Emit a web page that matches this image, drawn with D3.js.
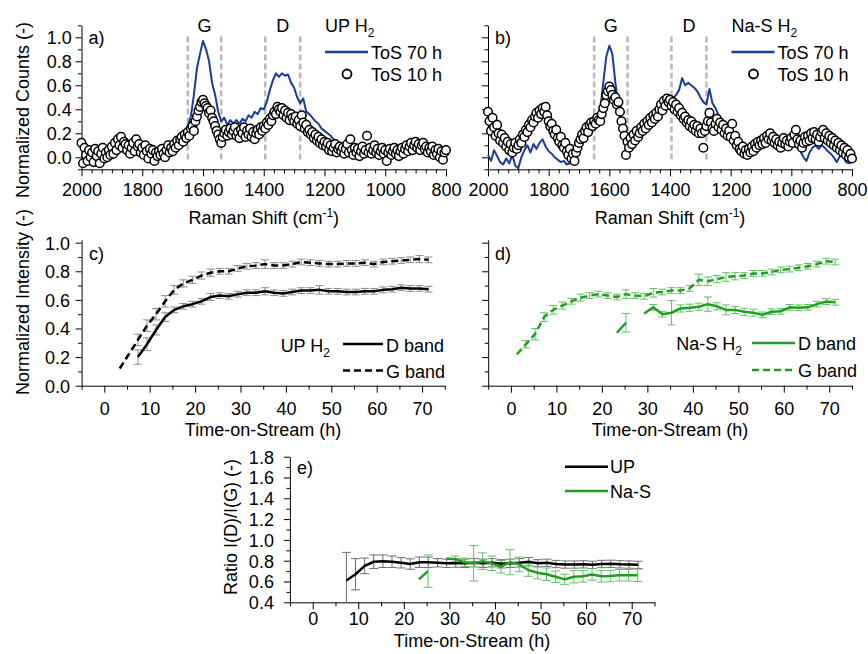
<!DOCTYPE html>
<html><head><meta charset="utf-8">
<script src="https://cdn.jsdelivr.net/npm/d3@7"></script>
<style>
body{margin:0;background:#fff;}
svg{display:block;font-family:"Liberation Sans",Arial,Helvetica,sans-serif;}
</style></head><body>
<svg id="chart" width="868" height="654"></svg>
<script>
// ---------- DATA ----------
// Raman spectra (panels a, b)
const wnLine = d3.range(2000, 799, -10);   // ToS 70 h spectrum grid (cm-1)
const wnDots = d3.range(2000, 799, -5);    // ToS 10 h spectrum grid (cm-1)

const upLine70 = [0.02,-0.01,0.03,0.00,-0.03,0.01,0.04,-0.02,0.02,0.05,0.03,
 0.08,0.10,0.07,0.05,0.08,0.04,0.06,0.02,0.05,0.03,
 0.01,-0.02,0.02,-0.03,0.00,0.02,-0.01,0.03,0.01,0.04,
 0.08,0.12,0.15,0.20,0.26,0.34,0.52,0.74,0.86,0.97,
 0.90,0.80,0.62,0.52,0.38,0.30,0.33,0.27,0.31,0.28,
 0.31,0.28,0.32,0.30,0.35,0.33,0.38,0.36,0.41,0.40,
 0.46,0.56,0.64,0.70,0.67,0.70,0.68,0.69,0.62,0.58,
 0.50,0.45,0.49,0.38,0.36,0.33,0.30,0.28,0.24,0.22,
 0.20,0.18,0.15,0.13,0.11,0.10,0.09,0.08,0.07,0.06,
 0.06,0.05,0.07,0.04,0.05,0.06,0.04,0.05,0.03,0.04,
 0.03,0.05,0.02,0.04,0.06,0.03,0.05,0.04,0.06,0.05,
 0.07,0.05,0.04,0.06,0.03,0.02,0.04,0.00,0.02,-0.01];

const upDots10 = [0.12,-0.05,0.08,0.02,-0.03,0.06,0.00,0.04,-0.04,0.07,
 0.01,0.05,-0.05,0.03,0.08,-0.01,0.04,0.00,0.06,0.02,
 0.09,0.03,0.12,0.06,0.15,0.10,0.17,0.08,0.13,0.11,
 0.06,0.10,0.03,0.08,0.12,0.05,0.15,0.09,0.11,0.04,
 0.08,0.02,0.10,0.05,-0.01,0.07,0.03,0.06,-0.03,0.04,
 0.01,0.05,0.02,0.07,0.03,0.00,0.06,0.10,0.04,0.08,
 0.05,0.11,0.08,0.14,0.10,0.15,0.17,0.13,0.19,0.16,
 0.21,0.18,0.24,0.26,0.22,0.30,0.34,0.39,0.42,0.46,
 0.48,0.45,0.43,0.41,0.37,0.39,0.33,0.30,0.26,0.22,
 0.19,0.15,0.12,0.17,0.20,0.23,0.18,0.21,0.24,0.19,
 0.22,0.25,0.18,0.21,0.16,0.23,0.20,0.25,0.17,0.22,
 0.19,0.24,0.17,0.21,0.15,0.20,0.23,0.19,0.25,0.22,
 0.26,0.24,0.29,0.27,0.32,0.30,0.35,0.38,0.36,0.42,
 0.40,0.38,0.41,0.35,0.39,0.33,0.37,0.31,0.36,0.33,
 0.30,0.34,0.28,0.31,0.26,0.35,0.29,0.24,0.27,0.21,
 0.23,0.19,0.21,0.16,0.19,0.14,0.17,0.12,0.15,0.10,
 0.13,0.09,0.12,0.06,0.10,0.05,0.08,0.11,0.04,0.07,
 0.09,0.05,0.08,0.03,0.07,0.11,0.04,0.15,0.06,0.02,
 0.08,0.04,0.07,0.01,0.05,0.09,0.03,0.06,0.18,0.04,
 0.08,0.03,0.06,0.10,0.04,0.07,0.02,0.05,0.08,0.03,
 0.06,-0.03,0.04,0.07,0.02,0.05,0.08,0.03,0.06,0.01,
 0.05,0.08,0.03,0.07,0.10,0.05,0.09,0.12,0.06,0.10,
 0.13,0.08,0.11,0.06,0.10,0.12,0.07,0.09,0.04,0.08,
 0.05,0.09,0.02,0.06,0.03,0.07,0.00,0.05,-0.02,0.04,
 0.06];

const nasLine70 = [0.02,-0.03,0.06,0.01,-0.04,-0.06,-0.01,-0.05,0.02,-0.07,-0.09,
 0.00,0.06,0.10,0.04,0.11,0.07,0.12,0.15,0.09,0.05,
 0.03,0.00,-0.02,-0.04,-0.03,-0.06,-0.05,-0.04,-0.01,0.04,
 0.11,0.17,0.22,0.25,0.28,0.31,0.40,0.62,0.84,0.93,
 0.86,0.62,0.42,0.30,0.19,0.10,0.15,0.17,0.20,0.22,
 0.24,0.27,0.29,0.32,0.33,0.36,0.38,0.40,0.43,0.46,
 0.49,0.52,0.56,0.66,0.60,0.62,0.60,0.58,0.55,0.50,
 0.46,0.44,0.57,0.45,0.41,0.35,0.30,0.25,0.22,0.18,
 0.15,0.10,0.05,0.02,0.00,0.01,0.05,0.08,0.10,0.12,
 0.13,0.10,0.12,0.09,0.07,0.05,0.06,0.08,0.10,0.12,
 0.10,0.11,0.05,0.00,-0.03,0.04,0.08,0.10,0.07,0.10,
 0.08,0.05,0.03,0.00,-0.04,0.01,0.02,-0.04,-0.05,-0.04];

const nasDots10 = [0.38,0.30,0.22,0.33,0.25,0.18,0.27,0.20,0.14,0.19,
 0.12,0.16,0.09,0.13,0.06,0.11,0.04,0.08,0.12,0.07,
 0.10,0.15,0.12,0.19,0.17,0.23,0.21,0.27,0.25,0.31,
 0.29,0.34,0.37,0.33,0.39,0.36,0.41,0.38,0.42,0.35,
 0.30,0.26,0.28,0.22,0.19,0.23,0.16,0.13,0.17,0.10,
 0.08,0.12,0.05,0.02,0.07,-0.01,0.03,-0.03,0.04,0.08,
 0.12,0.15,0.19,0.16,0.22,0.25,0.21,0.27,0.29,0.26,
 0.30,0.28,0.33,0.31,0.30,0.36,0.41,0.45,0.52,0.55,
 0.59,0.56,0.52,0.48,0.50,0.44,0.46,0.38,0.30,0.24,
 0.18,0.02,0.13,0.08,0.16,0.11,0.19,0.14,0.22,0.17,
 0.20,0.25,0.22,0.28,0.24,0.30,0.27,0.33,0.29,0.35,
 0.32,0.37,0.34,0.40,0.44,0.39,0.47,0.43,0.49,0.46,
 0.48,0.43,0.46,0.40,0.44,0.38,0.41,0.35,0.37,0.32,
 0.34,0.29,0.31,0.26,0.30,0.24,0.27,0.22,0.26,0.20,
 0.24,0.20,0.08,0.22,0.26,0.30,0.37,0.29,0.24,0.22,
 0.28,0.32,0.25,0.29,0.23,0.27,0.20,0.24,0.18,0.22,
 0.17,0.28,0.14,0.18,0.10,0.13,0.07,0.05,0.09,0.03,
 0.06,0.02,0.07,0.04,0.09,0.05,0.11,0.08,0.13,0.10,
 0.14,0.11,0.16,0.12,0.18,0.15,0.20,0.14,0.17,0.12,
 0.15,0.10,0.13,0.08,0.12,0.16,0.11,0.14,0.09,0.13,
 0.16,0.12,0.19,0.23,0.15,0.11,0.14,0.08,0.12,0.17,
 0.13,0.18,0.14,0.20,0.16,0.21,0.15,0.19,0.13,0.17,
 0.21,0.23,0.16,0.20,0.14,0.18,0.12,0.16,0.10,0.14,
 0.08,0.12,0.06,0.10,0.04,0.08,0.02,0.06,0.00,0.03,
 -0.01];

const bandLines = [1650, 1540, 1395, 1280];

// Band intensities vs time-on-stream (panels c, d)
const tUP_G = [3.4,5.4,7.4,9.4,11.4,13.4,15.4,17.4,19.4,21.4,23.4,25.4,27.4,29.4,31.4,33.4,35.4,37.4,39.4,41.4,43.4,45.4,47.4,49.4,51.4,53.4,55.4,57.4,59.4,61.4,63.4,65.4,67.4,69.4,71.4];
const upG = [0.12,0.22,0.32,0.42,0.50,0.59,0.67,0.715,0.74,0.77,0.79,0.80,0.80,0.82,0.835,0.84,0.85,0.84,0.84,0.85,0.865,0.86,0.855,0.85,0.85,0.855,0.855,0.86,0.85,0.865,0.87,0.875,0.88,0.885,0.88];
const upGerr = [0,0,0.04,0.04,0.04,0.04,0.03,0.025,0.025,0.025,0.025,0.02,0.02,0.02,0.02,0.02,0.03,0.02,0.02,0.02,0.02,0.02,0.02,0.02,0.02,0.02,0.02,0.02,0.02,0.02,0.02,0.02,0.02,0.025,0.02];

const tUP_D = [7.4,9.4,11.4,13.4,15.4,17.4,19.4,21.4,23.4,25.4,27.4,29.4,31.4,33.4,35.4,37.4,39.4,41.4,43.4,45.4,47.4,49.4,51.4,53.4,55.4,57.4,59.4,61.4,63.4,65.4,67.4,69.4,71.4];
const upD = [0.20,0.29,0.39,0.48,0.53,0.555,0.57,0.59,0.62,0.63,0.625,0.64,0.65,0.65,0.66,0.65,0.645,0.655,0.665,0.665,0.67,0.66,0.66,0.655,0.655,0.66,0.66,0.67,0.675,0.685,0.68,0.68,0.675];
const upDerr = [0.05,0.045,0.035,0.03,0.02,0.02,0.02,0.02,0.025,0.02,0.02,0.02,0.02,0.02,0.025,0.02,0.02,0.02,0.02,0.02,0.03,0.02,0.02,0.02,0.02,0.02,0.02,0.02,0.02,0.02,0.02,0.02,0.02];

const tNaS = [1.3,3.3,5.3,7.3,9.3,11.3,13.3,15.3,17.3,19.3,21.3,23.3,25.3,27.3,29.3,31.3,33.3,35.3,37.3,39.3,41.3,43.3,45.3,47.3,49.3,51.3,53.3,55.3,57.3,59.3,61.3,63.3,65.3,67.3,69.3,71.3];
const nasG = [0.22,0.29,0.36,0.48,0.53,0.56,0.59,0.615,0.63,0.64,0.63,0.62,0.64,0.63,0.625,0.65,0.655,0.665,0.665,0.68,0.74,0.73,0.745,0.76,0.765,0.77,0.785,0.785,0.795,0.81,0.815,0.825,0.835,0.85,0.87,0.865];
const nasGerr = [0,0.025,0.04,0.03,0.03,0.025,0.02,0.025,0.02,0.02,0.02,0.02,0.03,0.02,0.02,0.03,0.02,0.02,0.02,0.02,0.04,0.03,0.025,0.03,0.025,0.02,0.02,0.02,0.02,0.02,0.02,0.02,0.02,0.02,0.02,0.02];
const nasD = [null,null,null,null,null,null,null,null,null,null,null,0.37,0.44,null,0.505,0.548,0.50,0.51,0.54,0.545,0.552,0.57,0.555,0.53,0.53,0.517,0.51,0.495,0.517,0.52,0.548,0.545,0.548,0.57,0.588,0.583];
const nasDerr = [0,0,0,0,0,0,0,0,0,0,0,0,0.065,0,0,0.02,0.02,0.085,0.025,0.025,0.025,0.05,0.025,0.035,0.025,0.025,0.025,0.02,0.02,0.02,0.02,0.02,0.02,0.02,0.02,0.02];

// Ratio I(D)/I(G) (panel e)
const upRatio = [0.61,0.67,0.75,0.79,0.795,0.79,0.78,0.768,0.785,0.785,0.78,0.775,0.777,0.775,0.78,0.775,0.78,0.77,0.775,0.78,0.79,0.775,0.78,0.768,0.763,0.763,0.765,0.76,0.768,0.77,0.765,0.763,0.76];
const upRatioErr = [0.27,0.15,0.075,0.065,0.06,0.055,0.05,0.05,0.05,0.05,0.04,0.04,0.04,0.04,0.04,0.04,0.04,0.04,0.04,0.04,0.04,0.035,0.035,0.035,0.035,0.035,0.035,0.035,0.035,0.035,0.035,0.035,0.035];
const nasRatio = [null,null,null,null,null,null,null,null,null,null,null,0.62,0.70,null,0.82,0.815,0.785,0.775,0.795,0.775,0.742,0.785,0.765,0.71,0.685,0.67,0.646,0.62,0.646,0.65,0.668,0.65,0.652,0.66,0.66,0.66];
const nasRatioErr = [0,0,0,0,0,0,0,0,0,0,0,0,0.155,0,0,0.03,0.04,0.17,0.08,0.07,0.06,0.12,0.07,0.06,0.06,0.06,0.055,0.05,0.06,0.055,0.055,0.055,0.055,0.055,0.055,0.06];

// tick labels
const ramanTicks = [2000,1800,1600,1400,1200,1000,800];
const timeTicks = [0,10,20,30,40,50,60,70];
const countTicks = [0,0.2,0.4,0.6,0.8,1.0];
const ratioTicks = [0.4,0.6,0.8,1.0,1.2,1.4,1.6,1.8];

// ---------- STYLE ----------
const BLUE = "#1b3c99", GREEN = "#1f9f1f", GREEN_ERR = "#62c262";
const svg = d3.select("#chart");
const FONT = 18;

// ---------- SCALES ----------
const xA = d3.scaleLinear().domain([2000,800]).range([81.5,446]);
const yA = d3.scaleLinear().domain([-0.1,1.1]).range([169.3,25.3]);
const xB = d3.scaleLinear().domain([2000,800]).range([488,852]);
const yB = yA.copy();
const xC = d3.scaleLinear().domain([-5,75]).range([81.6,444.8]);
const yC = d3.scaleLinear().domain([0,1.02]).range([385.7,239.8]);
const xD = d3.scaleLinear().domain([-5,75]).range([488.2,852]);
const yD = yC.copy();
const xE = d3.scaleLinear().domain([-5,75]).range([289.9,654.5]);
const yE = d3.scaleLinear().domain([0.4,1.8]).range([602.3,456.7]);

function styleAxis(g){
  g.attr("font-size", null).attr("font-family", null);
  g.selectAll("path,line").attr("stroke","#000").attr("stroke-width",1);
  g.selectAll("text").attr("fill","#000").style("font-size", FONT+"px");
}

function drawAxes(xs, ys, o){
  const yPos = ys.range()[0], xPos = xs.range()[0];
  const gx = svg.append("g").attr("transform",`translate(0,${yPos})`)
    .call(d3.axisBottom(xs).tickValues(o.xMajor).tickSize(7).tickSizeOuter(0)
      .tickFormat(o.xLabels ? d3.format("d") : ""));
  styleAxis(gx);
  gx.selectAll("text").attr("y", o.xBase).attr("dy", null);
  const gxm = svg.append("g").attr("transform",`translate(0,${yPos})`)
    .call(d3.axisBottom(xs).tickValues(o.xMinor).tickSize(4).tickSizeOuter(0).tickFormat(""));
  gxm.select(".domain").remove(); styleAxis(gxm);

  const gy = svg.append("g").attr("transform",`translate(${xPos},0)`)
    .call(d3.axisLeft(ys).tickValues(o.yMajor).tickSize(6).tickSizeOuter(0)
      .tickFormat(o.yLabels ? d3.format(".1f") : ""));
  styleAxis(gy);
  gy.selectAll("text").attr("x", -o.yOff).attr("dy","0.36em");
  const gym = svg.append("g").attr("transform",`translate(${xPos},0)`)
    .call(d3.axisLeft(ys).tickValues(o.yMinor).tickSize(3.5).tickSizeOuter(0).tickFormat(""));
  gym.select(".domain").remove(); styleAxis(gym);
}

function txt(x, y, s, anchor){
  return svg.append("text").attr("x",x).attr("y",y).attr("text-anchor",anchor||"start")
    .attr("font-size",FONT).attr("fill","#000").text(s);
}
function sub(t, s){ t.append("tspan").attr("dy",5).attr("font-size",12).text(s); }

const ramanMinor = d3.range(0,37).map(k => 2000 - k*200/6).filter(v => Math.round(v) % 200 !== 0);
const countMinor = [-0.1,0.1,0.3,0.5,0.7,0.9,1.1];
const timeMinor = [-5,5,15,25,35,45,55,65,75];

// ---------- PANELS a, b ----------
function spectrum(xs, ys, line70, dots10, label, header, legX){
  bandLines.forEach(b => {
    svg.append("line").attr("x1",xs(b)).attr("x2",xs(b)).attr("y1",36.5).attr("y2",159.5)
      .attr("stroke","#b9b9b9").attr("stroke-width",2.5).attr("stroke-dasharray","6,3");
  });
  drawAxes(xs, ys, {xMajor:ramanTicks, xMinor:ramanMinor, xLabels:true, xBase:26.5,
    yMajor:countTicks, yMinor:countMinor, yLabels: label==="a)", yOff:9.8});
  const ln = d3.line().x((d,i)=>xs(wnLine[i])).y(d=>ys(d));
  svg.append("path").datum(line70).attr("d",ln).attr("fill","none")
    .attr("stroke",BLUE).attr("stroke-width",2).attr("stroke-linejoin","round");
  svg.append("g").selectAll("circle").data(dots10).join("circle")
    .attr("cx",(d,i)=>xs(wnDots[i])).attr("cy",d=>ys(d)).attr("r",4.3)
    .attr("fill","#fff").attr("stroke","#000").attr("stroke-width",1.5);
  txt(xs.range()[0]+7, 43.5, label);
  txt(xs((bandLines[0]+bandLines[1])/2), 32, "G", "middle");
  txt(xs((bandLines[2]+bandLines[3])/2), 32, "D", "middle");
  sub(txt(legX, 32, header), "2");
  svg.append("line").attr("x1",legX).attr("x2",legX+43).attr("y1",52).attr("y2",52)
    .attr("stroke",BLUE).attr("stroke-width",2.5);
  txt(legX+46, 58.5, "ToS 70 h");
  svg.append("circle").attr("cx",legX+22).attr("cy",74).attr("r",4.5)
    .attr("fill","#fff").attr("stroke","#000").attr("stroke-width",1.8);
  txt(legX+46, 80.5, "ToS 10 h");
  const t = txt((xs.range()[0]+xs.range()[1])/2, 224, "Raman Shift (cm", "middle");
  t.append("tspan").attr("dy",-7).attr("font-size",12).text("-1");
  t.append("tspan").attr("dy",7).attr("font-size",FONT).text(")");
}
spectrum(xA, yA, upLine70, upDots10, "a)", "UP H", 325);
spectrum(xB, yB, nasLine70, nasDots10, "b)", "Na-S H", 731.5);

// rotated titles
function vtitle(x, y, s){
  svg.append("text").attr("transform",`translate(${x},${y}) rotate(-90)`)
    .attr("text-anchor","middle").attr("font-size",FONT).attr("fill","#000").text(s);
}
vtitle(29, 110, "Normalized Counts (-)");
vtitle(28.5, 302, "Normalized Intensity (-)");
vtitle(237, 527, "Ratio I(D)/I(G) (-)");

// ---------- helpers for time panels ----------
function errBars(xs, ys, ts, vals, errs, color, cap){
  const lo = ys.domain()[0], hi = ys.domain()[1];
  const g = svg.append("g").attr("stroke",color).attr("stroke-width",1).attr("fill","none");
  ts.forEach((t,i) => {
    const v = vals[i], e = errs[i];
    if (v == null || !e) return;
    const a = Math.max(v-e, lo), b = Math.min(v+e, hi);
    const x = xs(t);
    g.append("line").attr("x1",x).attr("x2",x).attr("y1",ys(a)).attr("y2",ys(b));
    if (v-e >= lo) g.append("line").attr("x1",x-cap/2).attr("x2",x+cap/2).attr("y1",ys(v-e)).attr("y2",ys(v-e));
    if (v+e <= hi) g.append("line").attr("x1",x-cap/2).attr("x2",x+cap/2).attr("y1",ys(v+e)).attr("y2",ys(v+e));
  });
}
function series(xs, ys, ts, vals, color, dash, w){
  const ln = d3.line().defined(d => d.v != null).x(d => xs(d.t)).y(d => ys(d.v));
  svg.append("path").datum(ts.map((t,i)=>({t, v: vals[i]}))).attr("d", ln)
    .attr("fill","none").attr("stroke",color).attr("stroke-width",w||2.5)
    .attr("stroke-dasharray", dash || null).attr("stroke-linejoin","round");
}

// ---------- PANEL c ----------
drawAxes(xC, yC, {xMajor:timeTicks, xMinor:timeMinor, xLabels:true, xBase:29.8,
  yMajor:countTicks, yMinor:[0.1,0.3,0.5,0.7,0.9], yLabels:true, yOff:11.7});
errBars(xC, yC, tUP_G, upG, upGerr, "#8c8c8c", 8);
errBars(xC, yC, tUP_D, upD, upDerr, "#8c8c8c", 8);
series(xC, yC, tUP_G, upG, "#000", "7,4");
series(xC, yC, tUP_D, upD, "#000");
txt(89, 259.5, "c)");
sub(txt(330, 351.5, "UP H", "end"), "2");
svg.append("line").attr("x1",343).attr("x2",383).attr("y1",344).attr("y2",344).attr("stroke","#000").attr("stroke-width",2.5);
txt(386, 351.5, "D band");
svg.append("line").attr("x1",343).attr("x2",383).attr("y1",370.5).attr("y2",370.5).attr("stroke","#000").attr("stroke-width",2.5).attr("stroke-dasharray","7,4");
txt(386, 377.5, "G band");
txt(263, 436, "Time-on-Stream (h)", "middle");

// ---------- PANEL d ----------
drawAxes(xD, yD, {xMajor:timeTicks, xMinor:timeMinor, xLabels:true, xBase:29.8,
  yMajor:countTicks, yMinor:[0.1,0.3,0.5,0.7,0.9], yLabels:false, yOff:11.7});
errBars(xD, yD, tNaS, nasG, nasGerr, GREEN_ERR, 8);
errBars(xD, yD, tNaS, nasD, nasDerr, GREEN_ERR, 8);
series(xD, yD, tNaS, nasG, GREEN, "7,4");
series(xD, yD, tNaS, nasD, GREEN);
txt(495, 259.5, "d)");
sub(txt(742, 350, "Na-S H", "end"), "2");
svg.append("line").attr("x1",752).attr("x2",795).attr("y1",343).attr("y2",343).attr("stroke",GREEN).attr("stroke-width",2.5);
txt(798, 350, "D band");
svg.append("line").attr("x1",752).attr("x2",793).attr("y1",370).attr("y2",370).attr("stroke",GREEN).attr("stroke-width",2.5).attr("stroke-dasharray","7,4");
txt(798, 377, "G band");
txt(670, 436, "Time-on-Stream (h)", "middle");

// ---------- PANEL e ----------
drawAxes(xE, yE, {xMajor:timeTicks, xMinor:timeMinor, xLabels:true, xBase:23,
  yMajor:ratioTicks, yMinor:[0.5,0.7,0.9,1.1,1.3,1.5,1.7], yLabels:true, yOff:16});
errBars(xE, yE, tUP_D, upRatio, upRatioErr, "#6d6d6d", 9);
errBars(xE, yE, tNaS, nasRatio, nasRatioErr, GREEN_ERR, 9);
series(xE, yE, tUP_D, upRatio, "#000");
series(xE, yE, tNaS, nasRatio, GREEN);
txt(297, 474, "e)");
svg.append("line").attr("x1",565).attr("x2",608).attr("y1",466.7).attr("y2",466.7).attr("stroke","#000").attr("stroke-width",2.5);
txt(610, 473, "UP");
svg.append("line").attr("x1",565).attr("x2",608).attr("y1",491).attr("y2",491).attr("stroke",GREEN).attr("stroke-width",2.5);
txt(610, 497.5, "Na-S");
txt(472, 647, "Time-on-Stream (h)", "middle");
</script>
</body></html>
